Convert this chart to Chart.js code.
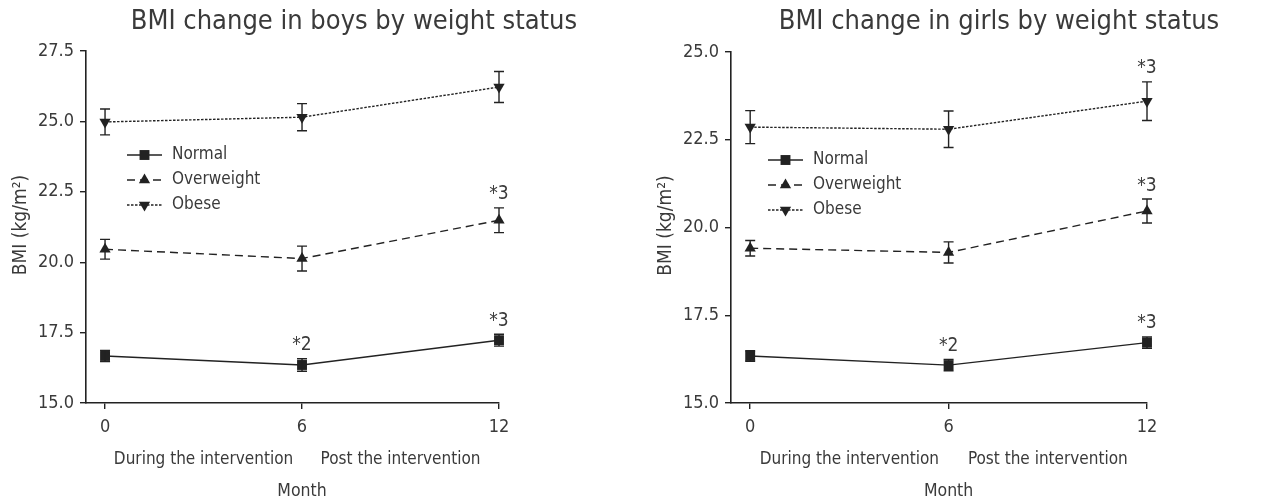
<!DOCTYPE html>
<html>
<head>
<meta charset="utf-8">
<script src="https://cdn.jsdelivr.net/npm/chart.js@4.4.1/dist/chart.umd.min.js"></script>
<style>
    html, body { margin: 0; padding: 0; background: #fff; }
    #wrap { display: flex; width: 1267px; height: 504px; }
    .box { position: relative; height: 504px; }
    #boxBoys { width: 633px; }
    #boxGirls { width: 634px; }
</style>
</head>
<body>
<div id="wrap">
    <div class="box" id="boxBoys"><canvas id="boysChart"></canvas></div>
    <div class="box" id="boxGirls"><canvas id="girlsChart"></canvas></div>
</div>
<script>
/* Donnees */
const months = [0, 6, 12];
const seriesNames = ['Normal', 'Overweight', 'Obese'];
const phaseLabels = ['During the intervention', 'Post the intervention'];
const phaseMonths = [3, 9];

const boysNormal = [16.67, 16.35, 17.23];
const boysNormalSE = [0.20, 0.22, 0.21];
const boysOverweight = [20.46, 20.13, 21.49];
const boysOverweightSE = [0.35, 0.44, 0.44];
const boysObese = [24.98, 25.15, 26.22];
const boysObeseSE = [0.46, 0.48, 0.55];
const boysMarks = [['Normal', 6, '*2'], ['Normal', 12, '*3'], ['Overweight', 12, '*3']];

const girlsNormal = [16.34, 16.08, 16.72];
const girlsNormalSE = [0.15, 0.16, 0.16];
const girlsOverweight = [19.41, 19.29, 20.47];
const girlsOverweightSE = [0.22, 0.30, 0.34];
const girlsObese = [22.86, 22.80, 23.60];
const girlsObeseSE = [0.47, 0.52, 0.55];
const girlsMarks = [['Normal', 6, '*2'], ['Normal', 12, '*3'], ['Overweight', 12, '*3'], ['Obese', 12, '*3']];

const FONT = '"Liberation Sans Narrow", "DejaVu Sans Condensed", "Liberation Sans", sans-serif';
const INK = '#222';
const TXT = '#3a3a3a';

// styles des series
const styles = {
    Normal: { dash: [], width: 1.4, point: 'rect', rot: 0, radius: 7 },
    Overweight: { dash: [8, 5], width: 1.4, point: 'triangle', rot: 0, radius: 6.5 },
    Obese: { dash: [2.5, 1.5], width: 1.4, point: 'triangle', rot: 180, radius: 6.5 }
};

function drawMarker(ctx, st, x, y) {
    ctx.save();
    ctx.fillStyle = INK;
    ctx.beginPath();
    if (st.point === 'rect') {
        const s = st.radius * Math.SQRT1_2;
        ctx.rect(x - s, y - s, 2 * s, 2 * s);
    } else {
        const r = st.radius;
        let a = st.rot * Math.PI / 180;
        for (let i = 0; i < 3; i++) {
            const px = x + Math.sin(a) * r, py = y - Math.cos(a) * r;
            if (i === 0) ctx.moveTo(px, py); else ctx.lineTo(px, py);
            a += 2 * Math.PI / 3;
        }
        ctx.closePath();
    }
    ctx.fill();
    ctx.restore();
}

const overlay = {
    id: 'overlay',
    afterDatasetsDraw(chart, args, opts) {
        const ctx = chart.ctx;
        const xs = chart.scales.x, ys = chart.scales.y;
        ctx.save();
        // barres d'erreur
        chart.data.datasets.forEach(ds => {
            ds.data.forEach((pt, i) => {
                const se = ds.errors[i];
                const x = xs.getPixelForValue(pt.x);
                const y1 = ys.getPixelForValue(pt.y + se);
                const y2 = ys.getPixelForValue(pt.y - se);
                ctx.strokeStyle = INK;
                ctx.lineWidth = 1.4;
                ctx.setLineDash([]);
                ctx.beginPath();
                ctx.moveTo(x, y1); ctx.lineTo(x, y2);
                ctx.moveTo(x - 5, y1); ctx.lineTo(x + 5, y1);
                ctx.moveTo(x - 5, y2); ctx.lineTo(x + 5, y2);
                ctx.stroke();
            });
        });
        // annotations *2 / *3
        ctx.fillStyle = TXT;
        ctx.font = '19px ' + FONT;
        ctx.textAlign = 'center';
        ctx.textBaseline = 'bottom';
        opts.marks.forEach(m => {
            const ds = chart.data.datasets.find(d => d.label === m[0]);
            const idx = months.indexOf(m[1]);
            const pt = ds.data[idx];
            const y = ys.getPixelForValue(pt.y + ds.errors[idx]);
            ctx.fillText(m[2], xs.getPixelForValue(m[1]), y - 4);
        });
        ctx.restore();
    },
    afterDraw(chart, args, opts) {
        const ctx = chart.ctx;
        const xs = chart.scales.x;
        const area = chart.chartArea;
        ctx.save();
        ctx.fillStyle = TXT;
        ctx.textAlign = 'center';
        ctx.textBaseline = 'middle';

        // titre
        ctx.font = '27px ' + FONT;
        ctx.fillText(opts.title, area.left + 268, 22);

        // phases + Month
        ctx.font = '17px ' + FONT;
        phaseLabels.forEach((t, i) => ctx.fillText(t, xs.getPixelForValue(phaseMonths[i]), 460));
        ctx.font = '17.5px ' + FONT;
        ctx.fillText('Month', xs.getPixelForValue(6), 491);

        // titre axe y
        ctx.save();
        ctx.translate(area.left - 65, (area.top + area.bottom) / 2 - 2);
        ctx.rotate(-Math.PI / 2);
        ctx.font = '19px ' + FONT;
        ctx.fillText('BMI (kg/m²)', 0, 0);
        ctx.restore();

        // legende
        ctx.textAlign = 'left';
        ctx.font = '17px ' + FONT;
        chart.data.datasets.forEach((ds, i) => {
            const st = styles[ds.label];
            const y = opts.legendY + i * 25;
            const x0 = area.left + opts.legendX, x1 = x0 + 35;
            ctx.strokeStyle = INK;
            ctx.lineWidth = st.width;
            ctx.setLineDash(st.dash);
            ctx.beginPath();
            ctx.moveTo(x0, y); ctx.lineTo(x1, y);
            ctx.stroke();
            ctx.setLineDash([]);
            drawMarker(ctx, st, (x0 + x1) / 2, y);
            ctx.fillText(ds.label, x1 + 10, y);
        });
        ctx.restore();
    }
};

function makeChart(id, title, vals, errs, yMax, marks, pad, legendX, legendY) {
    const datasets = seriesNames.map((name, k) => {
        const st = styles[name];
        return {
            label: name,
            data: months.map((m, i) => ({ x: m, y: vals[k][i] })),
            errors: errs[k],
            borderColor: INK,
            backgroundColor: INK,
            borderWidth: st.width,
            borderDash: st.dash,
            pointStyle: st.point,
            rotation: st.rot,
            pointRadius: st.radius,
            pointBorderWidth: 0,
            pointBackgroundColor: INK,
            tension: 0,
            clip: false
        };
    });

    return new Chart(document.getElementById(id), {
        type: 'line',
        data: { datasets },
        options: {
            responsive: true,
            maintainAspectRatio: false,
            animation: false,
            layout: { padding: pad },
            plugins: {
                legend: { display: false },
                tooltip: { enabled: false },
                overlay: { title, marks, legendX, legendY }
            },
            scales: {
                x: {
                    type: 'linear',
                    min: -0.58,
                    max: 12,
                    afterBuildTicks: s => { s.ticks = months.map(v => ({ value: v })); },
                    afterFit: s => { s.height = 101; },
                    ticks: { color: TXT, font: { family: FONT, size: 18 }, padding: 8 },
                    grid: { drawOnChartArea: false, drawTicks: true, tickLength: 6, color: INK, lineWidth: 1.4 },
                    border: { color: INK, width: 1.6 }
                },
                y: {
                    min: 15,
                    max: yMax,
                    afterFit: s => { s.width = 86; },
                    ticks: { stepSize: 2.5, callback: v => v.toFixed(1), color: TXT, font: { family: FONT, size: 18 }, padding: 6 },
                    grid: { drawOnChartArea: false, drawTicks: true, tickLength: 6, color: INK, lineWidth: 1.4 },
                    border: { color: INK, width: 1.6 }
                }
            }
        },
        plugins: [overlay]
    });
}

makeChart('boysChart', 'BMI change in boys by weight status',
    [boysNormal, boysOverweight, boysObese],
    [boysNormalSE, boysOverweightSE, boysObeseSE],
    27.5, boysMarks, { left: 0, top: 51, right: 134, bottom: 0 }, 41, 155);

makeChart('girlsChart', 'BMI change in girls by weight status',
    [girlsNormal, girlsOverweight, girlsObese],
    [girlsNormalSE, girlsOverweightSE, girlsObeseSE],
    25, girlsMarks, { left: 12, top: 52, right: 120, bottom: 0 }, 37, 160);
</script>
</body>
</html>
